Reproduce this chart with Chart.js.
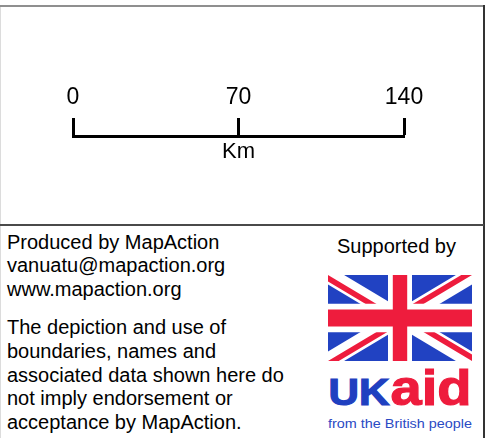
<!DOCTYPE html>
<html>
<head>
<meta charset="utf-8">
<script src="https://cdn.jsdelivr.net/npm/chart.js@4.4.1/dist/chart.umd.min.js"></script>
<style>
    html, body { margin: 0; padding: 0; background: #fff; }
    #page {
        position: relative; width: 495px; height: 438px; overflow: hidden;
        font-family: "Liberation Sans", Arial, sans-serif; color: #000;
    }
    #scaleWrap { position: absolute; left: 0; top: 0; width: 483px; height: 224px; }
    .rule { position: absolute; }
    .txt { position: absolute; font-size: 20px; line-height: 23.7px; white-space: nowrap; }
    #logo { position: absolute; left: 320px; top: 265px; }
</style>
</head>
<body>
<div id="page">
    <div id="scaleWrap"><canvas id="scaleChart"></canvas></div>

    <!-- frame lines -->
    <div class="rule" style="left:0;top:5px;width:484px;height:2px;background:#8f8f8f"></div>
    <div class="rule" style="left:0;top:7px;width:1px;height:431px;background:#dcdcdc"></div>
    <div class="rule" style="left:483px;top:5px;width:2px;height:433px;background:#333"></div>
    <div class="rule" style="left:0;top:224px;width:484px;height:2px;background:#4a4a4a"></div>

    <div class="txt" style="left:7px;top:230.5px">Produced by MapAction<br>vanuatu@mapaction.org<br>www.mapaction.org</div>
    <div class="txt" style="left:7px;top:316.2px">The depiction and use of<br>boundaries, names and<br>associated data shown here do<br>not imply endorsement or<br>acceptance by MapAction.</div>
    <div class="txt" style="left:337px;top:234.5px">Supported by</div>

    <svg id="logo" width="160" height="170" viewBox="0 0 160 170">
        <svg x="8" y="10" width="144" height="86" viewBox="0 0 60 30" preserveAspectRatio="none">
            <clipPath id="t"><path d="M30,15 h30 v15 z v15 h-30 z h-30 v-15 z v-15 h30 z"/></clipPath>
            <rect width="60" height="30" fill="#2142c2"/>
            <path d="M0,0 L60,30 M60,0 L0,30" stroke="#fff" stroke-width="6"/>
            <path d="M0,0 L60,30 M60,0 L0,30" clip-path="url(#t)" stroke="#ee1c3d" stroke-width="4"/>
            <path d="M30,0 v30 M0,15 h60" stroke="#fff" stroke-width="10"/>
            <path d="M30,0 v30 M0,15 h60" stroke="#ee1c3d" stroke-width="6"/>
        </svg>
        <text x="8.5" y="140" font-family="Liberation Sans, Arial" font-weight="bold" font-size="36"
              fill="#1f40c0" stroke="#1f40c0" stroke-width="1.2"
              textLength="61" lengthAdjust="spacingAndGlyphs">UK</text>
        <text x="70.5" y="140" font-family="Liberation Sans, Arial" font-weight="bold" font-size="50"
              fill="#ee1c3d" stroke="#ee1c3d" stroke-width="1.2"
              textLength="81" lengthAdjust="spacingAndGlyphs">aid</text>
        <text x="8" y="163.3" font-family="Liberation Sans, Arial" font-size="12.5"
              fill="#2a4ac4" textLength="144" lengthAdjust="spacingAndGlyphs">from the British people</text>
    </svg>
</div>

<script>
/* ---------- SCALE BAR DATA ---------- */
const scaleTicks = [0, 70, 140];
const scaleUnit = "Km";

const FONT = "'Liberation Sans', Arial, sans-serif";

/* unit label under the middle of the bar */
const unitLabel = {
    id: "unitLabel",
    afterDraw(chart) {
        const x = chart.scales.x;
        const ctx = chart.ctx;
        ctx.save();
        ctx.font = "22px " + FONT;
        ctx.fillStyle = "#000";
        ctx.textAlign = "center";
        ctx.textBaseline = "alphabetic";
        ctx.fillText(scaleUnit, x.getPixelForValue(scaleTicks[1]), 158);
        ctx.restore();
    }
};

new Chart(document.getElementById("scaleChart"), {
    type: "scatter",
    data: { datasets: [] },
    options: {
        responsive: true,
        maintainAspectRatio: false,
        animation: false,
        events: [],
        layout: { padding: { left: 73, right: 79, top: 76.4, bottom: 0 } },
        plugins: { legend: { display: false }, tooltip: { enabled: false } },
        scales: {
            x: {
                type: "linear",
                position: "top",
                min: scaleTicks[0],
                max: scaleTicks[scaleTicks.length - 1],
                afterBuildTicks: s => { s.ticks = scaleTicks.map(v => ({ value: v })); },
                ticks: {
                    color: "#000",
                    font: { size: 23, family: FONT },
                    padding: 7,
                    maxRotation: 0,
                    autoSkip: false
                },
                grid: {
                    display: true,
                    drawOnChartArea: false,
                    drawTicks: true,
                    tickLength: 18,
                    tickWidth: 3,
                    tickColor: "#000"
                },
                border: { display: true, color: "#000", width: 3 }
            },
            y: { display: false }
        }
    },
    plugins: [unitLabel]
});
</script>
</body>
</html>
